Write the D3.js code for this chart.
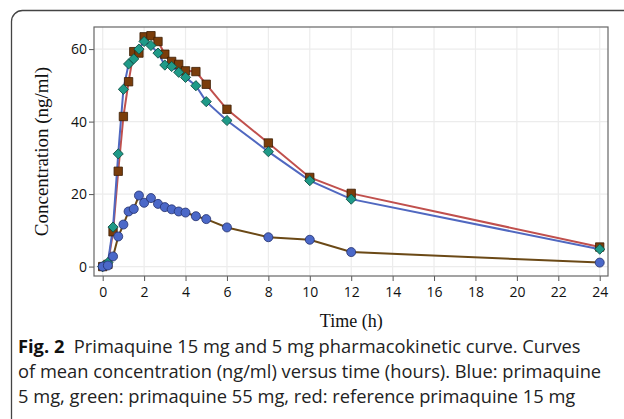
<!DOCTYPE html>
<html>
<head>
<meta charset="utf-8">
<script src="https://cdn.jsdelivr.net/npm/d3@7"></script>
<style>
  body { margin: 0; background: #fff; }
  svg { display: block; }
</style>
</head>
<body>
<div class="canvas"></div>
<script>
// sampling times (h)
const times = [0, 0.25, 0.5, 0.75, 1, 1.25, 1.5, 1.75, 2, 2.33, 2.67, 3, 3.33, 3.67, 4, 4.5, 5, 6, 8, 10, 12, 24]
// red: reference primaquine 15 mg
const reference15 = [0, 0.6, 9.6, 26.3, 41.4, 51, 59.3, 58.9, 63.4, 63.7, 62.1, 58.6, 56.6, 55.8, 54.0, 53.8, 50.3, 43.4, 34.1, 24.6, 20.2, 5.4]
// green: primaquine 15 mg test
const test15 = [0, 1.1, 10.9, 31.1, 48.9, 55.9, 57.3, 60.0, 62.1, 61.0, 58.9, 55.6, 55.2, 53.6, 52.2, 49.9, 45.5, 40.3, 31.7, 23.7, 18.6, 4.8]
// blue: primaquine 5 mg
const dose5 = [0, 0.3, 2.8, 8.3, 11.6, 15.2, 15.9, 19.6, 17.6, 18.9, 17.3, 16.4, 15.8, 15.2, 14.9, 13.9, 13.1, 10.8, 8.1, 7.4, 4.0, 1.1]

const xTicks = d3.range(0, 25, 2)
const yTicks = [0, 20, 40, 60]
const captionLines = [
    ['Fig. 2', '  Primaquine 15 mg and 5 mg pharmacokinetic curve. Curves'],
    ['', 'of mean concentration (ng/ml) versus time (hours). Blue: primaquine'],
    ['', '5 mg, green: primaquine 55 mg, red: reference primaquine 15 mg']
]

const margin = { top: 27, right: 16, bottom: 143, left: 94 }
const width = 624, height = 419
const graphWidth = width - margin.left - margin.right
const graphHeight = height - margin.top - margin.bottom

const svg = d3.select('.canvas')
    .append('svg')
    .attr('width', width)
    .attr('height', height)

// rounded frame round figure + caption
svg.append('rect')
    .attr('x', 11.5).attr('y', 10.5)
    .attr('width', 660).attr('height', 430)
    .attr('rx', 11)
    .attr('fill', 'none')
    .attr('stroke', '#444')
    .attr('stroke-width', 1.3)

const graph = svg.append('g')
    .attr('transform', `translate(${margin.left}, ${margin.top})`)

const x = d3.scaleLinear().domain([-0.42, 24.4]).range([0, graphWidth])
const y = d3.scaleLinear().domain([-2.6, 66.1]).range([graphHeight, 0])

// grid
graph.append('g').selectAll('line.vg')
    .data(xTicks).enter().append('line')
    .attr('x1', d => x(d)).attr('x2', d => x(d))
    .attr('y1', 0).attr('y2', graphHeight)
    .attr('stroke', '#ececec').attr('stroke-width', 1.2)
graph.append('g').selectAll('line.hg')
    .data(yTicks).enter().append('line')
    .attr('x1', 0).attr('x2', graphWidth)
    .attr('y1', d => y(d)).attr('y2', d => y(d))
    .attr('stroke', '#ececec').attr('stroke-width', 1.2)

// axes
const xAxis = d3.axisBottom(x).tickValues(xTicks).tickSize(5).tickSizeOuter(0)
const yAxis = d3.axisLeft(y).tickValues(yTicks).tickSize(5).tickSizeOuter(0)

const xAxisGroup = graph.append('g')
    .attr('transform', `translate(0, ${graphHeight})`)
    .call(xAxis)
const yAxisGroup = graph.append('g').call(yAxis)

for (const g of [xAxisGroup, yAxisGroup]) {
    g.select('.domain').remove()
    g.selectAll('line').attr('stroke', '#555')
    g.selectAll('text')
        .attr('fill', '#111')
        .style('font-family', '"Open Sans", sans-serif')
        .style('font-size', '14px')
}
xAxisGroup.selectAll('text').attr('dy', '0.95em')
yAxisGroup.selectAll('text').attr('x', -7)

// plot frame
graph.append('rect')
    .attr('width', graphWidth).attr('height', graphHeight)
    .attr('fill', 'none')
    .attr('stroke', '#666').attr('stroke-width', 1.2)

// lines
const series = [
    { values: reference15, line: '#c0504d', fill: '#7a3d0b', stroke: '#3b1d04', shape: d3.symbolSquare, size: 70, rot: 0 },
    { values: test15, line: '#5068c0', fill: '#1f9a88', stroke: '#0c4a40', shape: d3.symbolSquare, size: 52, rot: 45 },
    { values: dose5, line: '#6b4916', fill: '#4b68c8', stroke: '#23306c', shape: d3.symbolCircle, size: 64, rot: 0 }
]

const line = d3.line()
    .x(d => x(d[0]))
    .y(d => y(d[1]))

series.forEach(s => {
    const pts = times.map((t, i) => [t, s.values[i]])
    graph.append('path')
        .datum(pts)
        .attr('fill', 'none')
        .attr('stroke', s.line)
        .attr('stroke-width', 2)
        .attr('d', line)
})

series.forEach(s => {
    const pts = times.map((t, i) => [t, s.values[i]])
    const sym = d3.symbol().type(s.shape).size(s.size)
    graph.append('g').selectAll('path')
        .data(pts).enter().append('path')
        .attr('d', sym)
        .attr('transform', d => `translate(${x(d[0])}, ${y(d[1])}) rotate(${s.rot})`)
        .attr('fill', s.fill)
        .attr('stroke', s.stroke)
        .attr('stroke-width', 0.8)
})

// axis titles
svg.append('text')
    .attr('transform', `translate(48, ${margin.top + graphHeight / 2}) rotate(-90)`)
    .attr('text-anchor', 'middle')
    .style('font-family', '"Liberation Serif", serif')
    .style('font-size', '19px')
    .attr('fill', '#111')
    .text('Concentration (ng/ml)')

svg.append('text')
    .attr('x', margin.left + x(12))
    .attr('y', 327)
    .attr('text-anchor', 'middle')
    .style('font-family', '"Liberation Serif", serif')
    .style('font-size', '18px')
    .attr('fill', '#111')
    .text('Time (h)')

// caption
const caption = svg.append('g')
    .style('font-family', '"Open Sans", sans-serif')
    .style('font-size', '18.3px')
    .attr('fill', '#222')

captionLines.forEach((ln, i) => {
    const t = caption.append('text')
        .attr('x', 18)
        .attr('y', 353 + i * 25)
        .attr('xml:space', 'preserve')
    if (ln[0]) t.append('tspan').style('font-weight', 'bold').attr('fill', '#111').text(ln[0])
    t.append('tspan').text(ln[1])
})
</script>
</body>
</html>
